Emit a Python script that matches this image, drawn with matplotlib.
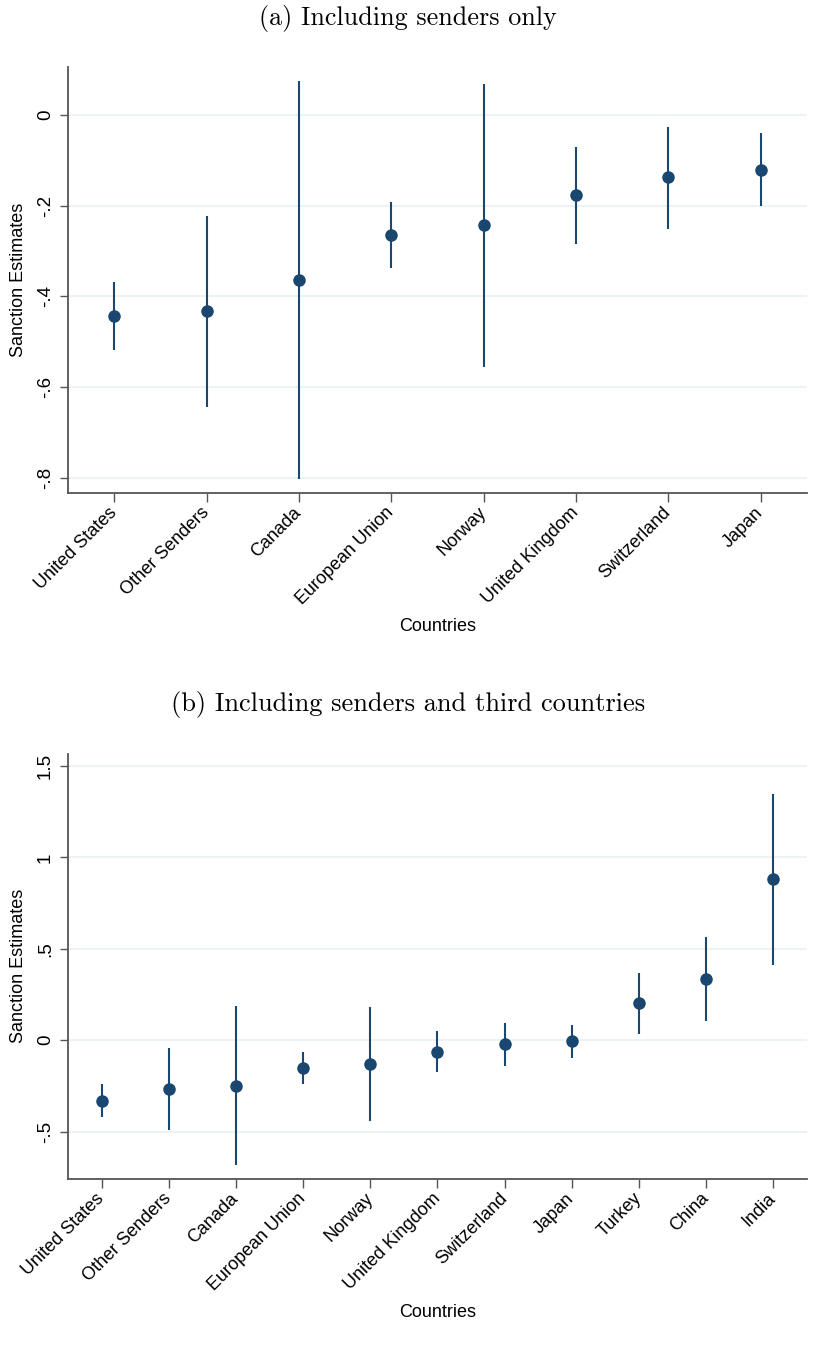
import matplotlib
matplotlib.use('Agg')
import matplotlib.pyplot as plt

# panel (a): senders only
countries_a = ['United States', 'Other Senders', 'Canada', 'European Union',
               'Norway', 'United Kingdom', 'Switzerland', 'Japan']
est_a = [-0.444, -0.433, -0.364, -0.265, -0.243, -0.176, -0.137, -0.120]
lo_a = [-0.519, -0.643, -0.803, -0.338, -0.556, -0.284, -0.251, -0.201]
hi_a = [-0.369, -0.223, 0.076, -0.192, 0.069, -0.070, -0.026, -0.039]
yticks_a = [0, -0.2, -0.4, -0.6, -0.8]
yticklabels_a = ['0', '-.2', '-.4', '-.6', '-.8']

# panel (b): senders and third countries
countries_b = ['United States', 'Other Senders', 'Canada', 'European Union',
               'Norway', 'United Kingdom', 'Switzerland', 'Japan',
               'Turkey', 'China', 'India']
est_b = [-0.330, -0.268, -0.248, -0.152, -0.128, -0.062, -0.022, -0.005,
         0.202, 0.337, 0.881]
lo_b = [-0.418, -0.491, -0.684, -0.237, -0.440, -0.175, -0.139, -0.095,
        0.034, 0.106, 0.410]
hi_b = [-0.241, -0.044, 0.189, -0.066, 0.184, 0.051, 0.093, 0.082,
        0.368, 0.565, 1.347]
yticks_b = [1.5, 1, 0.5, 0, -0.5]
yticklabels_b = ['1.5', '1', '.5', '0', '-.5']

navy = '#1a476f'
grid_c = '#eaf2f3'
axis_c = '#555555'
sans = ['Liberation Sans Narrow', 'Liberation Sans', 'DejaVu Sans']
serif = ['cmr10', 'DejaVu Serif']

fig = plt.figure(figsize=(8.16, 13.47), dpi=100)


def draw_panel(ax, names, est, lo, hi, yticks, ylabs, ylim):
    x = list(range(1, len(names) + 1))
    ax.vlines(x, lo, hi, color=navy, linewidth=1.5, zorder=3)
    ax.plot(x, est, 'o', color=navy, markersize=8, zorder=4)
    ax.set_xlim(0.5, len(names) + 0.5)
    ax.set_ylim(*ylim)
    ax.set_yticks(yticks)
    ax.set_yticklabels(ylabs, rotation=90, va='center', family=sans, fontsize=13.5)
    ax.set_xticks(x)
    ax.set_xticklabels(names, rotation=45, ha='right', va='center',
                       rotation_mode='anchor', family=sans, fontsize=13)
    ax.tick_params(axis='x', length=6.5, width=1, color=axis_c, pad=6)
    ax.tick_params(axis='y', length=6, width=1, color=axis_c, pad=4)
    for yv in yticks:
        ax.axhline(yv, color=grid_c, linewidth=1.3, zorder=1)
    for s in ['top', 'right']:
        ax.spines[s].set_visible(False)
    for s in ['left', 'bottom']:
        ax.spines[s].set_color(axis_c)
        ax.spines[s].set_linewidth(1.3)
    ax.set_ylabel('Sanction Estimates', family=sans, fontsize=13, labelpad=7)
    ax.set_xlabel('Countries', family=sans, fontsize=13, labelpad=7)


ax1 = fig.add_axes([0.0833, 0.6342, 0.9056, 0.316])
draw_panel(ax1, countries_a, est_a, lo_a, hi_a, yticks_a, yticklabels_a,
           (-0.833, 0.106))

ax2 = fig.add_axes([0.0833, 0.1250, 0.9056, 0.3153])
draw_panel(ax2, countries_b, est_b, lo_b, hi_b, yticks_b, yticklabels_b,
           (-0.757, 1.566))

fig.text(0.5, 1 - 18 / 1347, '(a) Including senders only', ha='center',
         va='center', family=serif, fontsize=18.8)
fig.text(0.5, 1 - 704 / 1347, '(b) Including senders and third countries',
         ha='center', va='center', family=serif, fontsize=19)

fig.savefig('out.png', dpi=100, facecolor='white')
